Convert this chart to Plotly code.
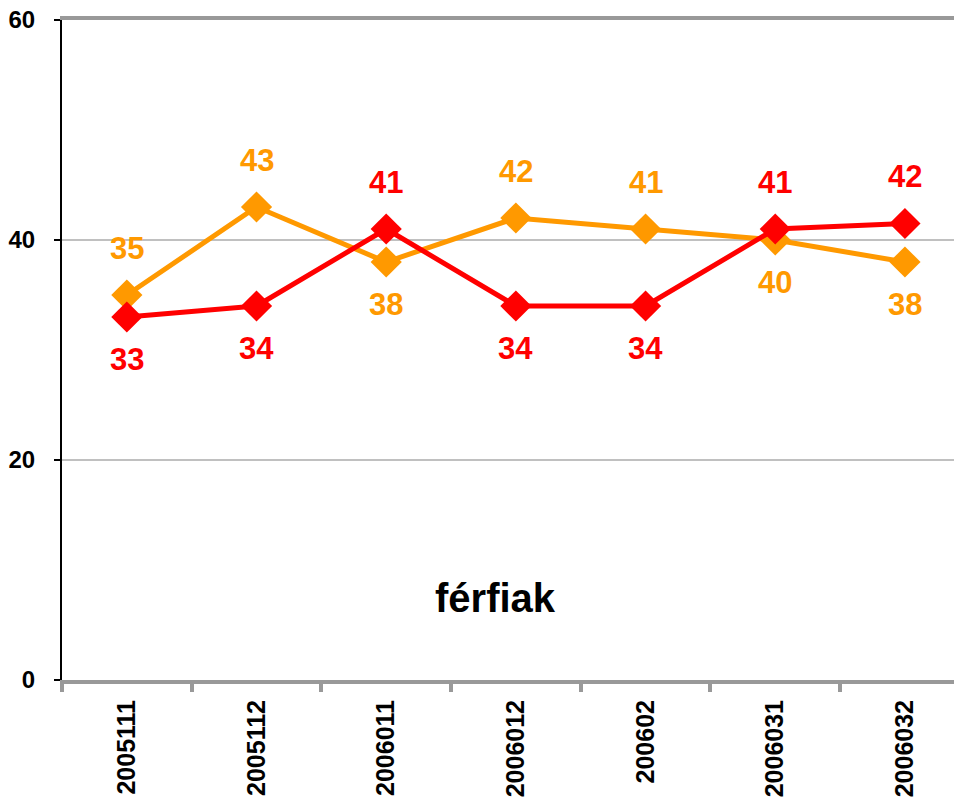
import plotly.graph_objects as go

categories = ["2005111", "2005112", "2006011", "2006012", "200602", "2006031", "2006032"]
orange_values = [35, 43, 38, 42, 41, 40, 38]
red_values = [33, 34, 41, 34, 34, 41, 41.5]
orange_labels = ["35", "43", "38", "42", "41", "40", "38"]
red_labels = ["33", "34", "41", "34", "34", "41", "42"]
orange_label_side = [1, 1, -1, 1, 1, -1, -1]
red_label_side = [-1, -1, 1, -1, -1, 1, 1]
y_ticks = [0, 20, 40, 60]
panel_title = "férfiak"

ORANGE = "#FF9900"
RED = "#FF0000"
FONT = "Liberation Sans, Arial, sans-serif"

fig = go.Figure()
for vals, color in [(orange_values, ORANGE), (red_values, RED)]:
    fig.add_trace(go.Scatter(
        x=categories, y=vals, mode="lines+markers",
        line=dict(color=color, width=5),
        marker=dict(symbol="diamond", size=24, color=color),
        showlegend=False, hoverinfo="skip",
    ))

annotations = []
for vals, labels, sides, color in [
    (orange_values, orange_labels, orange_label_side, ORANGE),
    (red_values, red_labels, red_label_side, RED),
]:
    for i, (v, t, s) in enumerate(zip(vals, labels, sides)):
        annotations.append(dict(
            x=i, y=v, xref="x", yref="y", text=f"<b>{t}</b>", showarrow=False,
            yshift=47 if s > 0 else -42,
            font=dict(family=FONT, size=31, color=color),
        ))

annotations.append(dict(
    x=0.482, y=0.088, xref="paper", yref="paper", text=f"<b>{panel_title}</b>",
    showarrow=False, font=dict(family=FONT, size=40, color="black"),
))

# page body adds an 8px offset; compensate so the plot area sits at 62..962 x 20..680
fig.update_layout(
    width=954, height=791,
    margin=dict(l=54, r=0, t=12, b=119),
    paper_bgcolor="white", plot_bgcolor="white",
    annotations=annotations,
    xaxis=dict(
        type="category", range=[-0.5, 6.44], automargin=False,
        showline=True, linecolor="#999999", linewidth=4, mirror=True,
        ticks="outside", tickson="boundaries", ticklen=8, tickwidth=4, tickcolor="#999999",
        tickangle=-90, ticklabelstandoff=6, ticklabeloverflow="allow",
        tickfont=dict(family=FONT, size=25, color="black", weight="bold"),
        showgrid=False, zeroline=False,
    ),
    yaxis=dict(
        range=[0, 60], tickvals=y_ticks, ticktext=[str(v) for v in y_ticks],
        automargin=False, ticklabeloverflow="allow",
        showline=True, linecolor="black", linewidth=2,
        ticks="outside", ticklen=6, tickwidth=2, tickcolor="black",
        ticklabelstandoff=14,
        tickfont=dict(family=FONT, size=24, color="black", weight="bold"),
        showgrid=True, gridcolor="#C0C0C0", gridwidth=2, zeroline=False,
    ),
)

fig.write_html("out.html")
